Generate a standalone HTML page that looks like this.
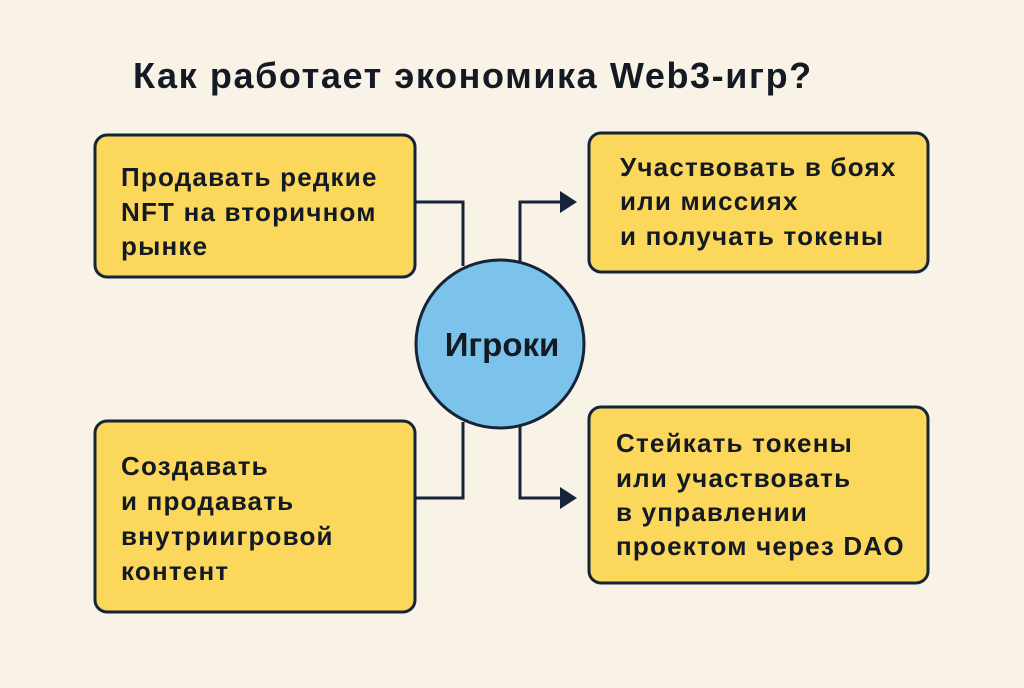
<!DOCTYPE html>
<html><head><meta charset="utf-8"><style>
body{margin:0;width:1024px;height:683px;background:#f8f2e7;overflow:hidden;font-family:"Liberation Sans","DejaVu Sans",sans-serif;}
</style></head><body>
<svg width="1024" height="683" xmlns="http://www.w3.org/2000/svg" font-family="Liberation Sans, DejaVu Sans, sans-serif">
<rect width="1024" height="683" fill="#f8f2e7"/>
<text x="133" y="88" font-size="36" font-weight="bold" letter-spacing="1.6" fill="#141a24">Как работает экономика Web3-игр?</text>
<g fill="none" stroke="#16243a" stroke-width="3">
<polyline points="413,202 463,202 463,266"/>
<polyline points="520,262 520,202 562,202"/>
<polyline points="463,422 463,498 413,498"/>
<polyline points="520,424 520,498 562,498"/>
</g>
<polygon points="560,191 577,202 560,213" fill="#16243a"/>
<polygon points="560,487 577,498 560,509" fill="#16243a"/>
<g fill="#fbd75b" stroke="#16243a" stroke-width="3">
<rect x="95" y="135" width="320" height="142" rx="12"/>
<rect x="589" y="133" width="339" height="139" rx="12"/>
<rect x="95" y="421" width="320" height="191" rx="12"/>
<rect x="589" y="407" width="339" height="176" rx="12"/>
</g>
<circle cx="500" cy="344" r="84" fill="#7cc3ec" stroke="#16243a" stroke-width="3"/>
<text x="502" y="356" font-size="33" font-weight="bold" fill="#141a24" text-anchor="middle">Игроки</text>
<g font-size="26" font-weight="bold" letter-spacing="1.2" fill="#141a24">
<text x="121" y="186">Продавать редкие</text>
<text x="121" y="221">NFT на вторичном</text>
<text x="121" y="255">рынке</text>
<text x="620" y="176">Участвовать в боях</text>
<text x="620" y="210">или миссиях</text>
<text x="620" y="245">и получать токены</text>
<text x="121" y="475">Создавать</text>
<text x="121" y="510">и продавать</text>
<text x="121" y="545">внутриигровой</text>
<text x="121" y="580">контент</text>
<text x="616" y="452">Стейкать токены</text>
<text x="616" y="487">или участвовать</text>
<text x="616" y="521">в управлении</text>
<text x="616" y="555">проектом через DAO</text>
</g>
</svg>
</body></html>
